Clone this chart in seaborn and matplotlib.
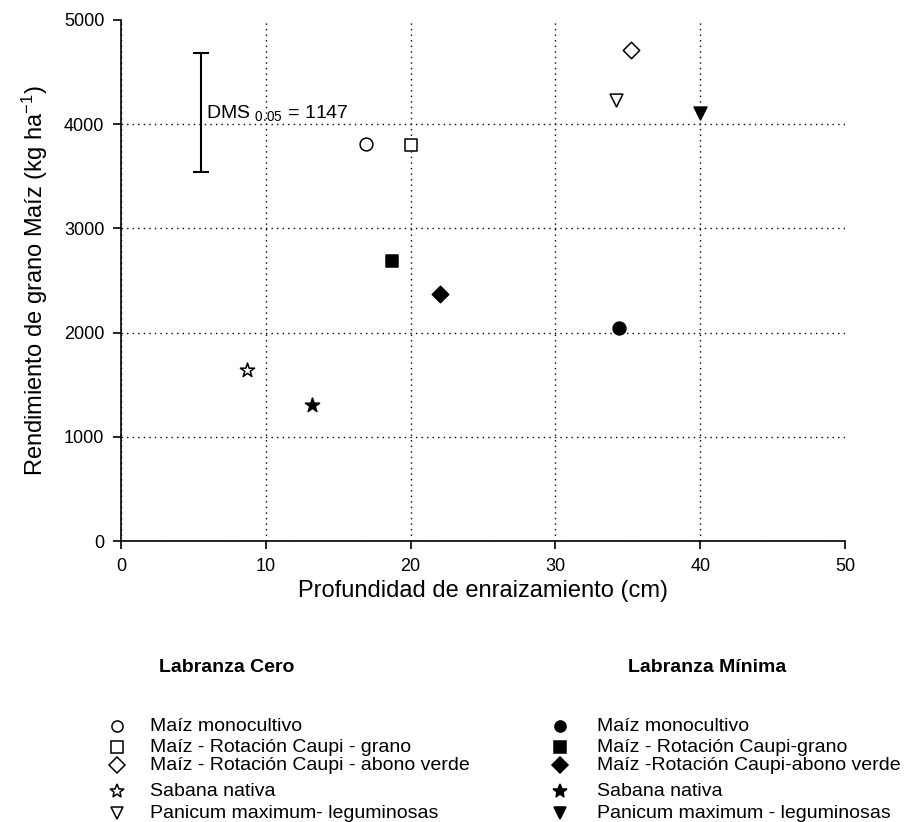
import pandas as pd
import seaborn as sns
import matplotlib.pyplot as plt
from matplotlib.lines import Line2D

# root depth (cm) and maize grain yield (kg/ha) per treatment
tratamientos = ['Maíz monocultivo', 'Maíz - Rotación Caupi - grano',
                'Maíz - Rotación Caupi - abono verde', 'Sabana nativa',
                'Panicum maximum- leguminosas']
tratamientos_min = ['Maíz monocultivo', 'Maíz - Rotación Caupi-grano',
                    'Maíz -Rotación Caupi-abono verde', 'Sabana nativa',
                    'Panicum maximum - leguminosas']
marcadores = ['o', 's', 'D', '*', 'v']

prof_cero = [16.9, 20.0, 35.2, 8.7, 34.2]
rend_cero = [3810, 3800, 4710, 1640, 4230]
prof_min = [34.4, 18.7, 22.0, 13.2, 40.0]
rend_min = [2045, 2690, 2370, 1310, 4110]

dms = 1147
dms_x = 5.5
dms_centro = 4110

cero = pd.DataFrame({'Prof': prof_cero, 'Rend': rend_cero, 'Trat': tratamientos, 'm': marcadores})
minima = pd.DataFrame({'Prof': prof_min, 'Rend': rend_min, 'Trat': tratamientos_min, 'm': marcadores})

sns.set_style('white')
plt.rcParams['font.family'] = ['Liberation Sans', 'DejaVu Sans']
plt.rcParams['mathtext.fontset'] = 'custom'
plt.rcParams['mathtext.rm'] = 'Liberation Sans'
plt.rcParams['mathtext.default'] = 'regular'
for k in ['text.color', 'axes.labelcolor', 'xtick.color', 'ytick.color']:
    plt.rcParams[k] = 'black'

fig = plt.figure(figsize=(9.14, 8.22), dpi=100)
ax = fig.add_axes([0.1324, 0.3418, 0.7921, 0.6339])

tamanos = {'o': 85, 's': 85, 'D': 70, '*': 115, 'v': 85}
for _, r in cero.iterrows():
    sns.scatterplot(x=[r['Prof']], y=[r['Rend']], marker=r['m'], s=tamanos[r['m']],
                    color='white', edgecolor='black', linewidth=1.1, ax=ax, zorder=3)
for _, r in minima.iterrows():
    sns.scatterplot(x=[r['Prof']], y=[r['Rend']], marker=r['m'], s=tamanos[r['m']],
                    color='black', edgecolor='black', linewidth=1.1, ax=ax, zorder=3)

ax.errorbar(dms_x, dms_centro, yerr=dms / 2, fmt='none', ecolor='black',
            elinewidth=1.5, capsize=6, capthick=1.5)
ax.text(dms_x + 0.35, 4060, 'DMS $_{0.05}$ = 1147', fontsize=14,
        va='baseline', ha='left')

ax.set_xlim(0, 50)
ax.set_ylim(0, 5000)
ax.set_xticks(range(0, 51, 10))
ax.set_yticks(range(0, 5001, 1000))
ax.grid(True, linestyle=(0, (1, 3)), color='black', linewidth=1.0)
ax.xaxis.get_gridlines()[-1].set_visible(False)
ax.yaxis.get_gridlines()[-1].set_visible(False)
for s in ['top', 'right']:
    ax.spines[s].set_visible(False)
for s in ['left', 'bottom']:
    ax.spines[s].set_color('black')
    ax.spines[s].set_linewidth(1.2)
ax.tick_params(direction='out', length=6, width=1.2, colors='black',
               labelsize=13, left=True, bottom=True, pad=6)
ax.set_xlabel('Profundidad de enraizamiento (cm)', fontsize=17, labelpad=4)
ax.set_ylabel('Rendimiento de grano Maíz (kg ha$^{-1}$)', fontsize=17, labelpad=10)

# legend blocks below the plot (layout positions in figure pixels)
W, H = 914, 822
filas = [726, 747, 765, 791, 813]
columnas = [(117, 150, 159, 'Labranza Cero', tratamientos, 'white'),
            (560, 597, 628, 'Labranza Mínima', tratamientos_min, 'black')]
for x_m, x_t, x_h, titulo, etiquetas, relleno in columnas:
    fig.text(x_h / W, 1 - 667 / H, titulo, fontsize=14, fontweight='bold', va='center')
    for y, m, lab in zip(filas, marcadores, etiquetas):
        fig.add_artist(Line2D([x_m / W], [1 - y / H], transform=fig.transFigure,
                              marker=m, linestyle='none', markerfacecolor=relleno,
                              markeredgecolor='black', markeredgewidth=1.1,
                              markersize=10 if m == '*' else 8))
        fig.text(x_t / W, 1 - y / H, lab, fontsize=14, va='center')

fig.savefig('out.png', dpi=100)
